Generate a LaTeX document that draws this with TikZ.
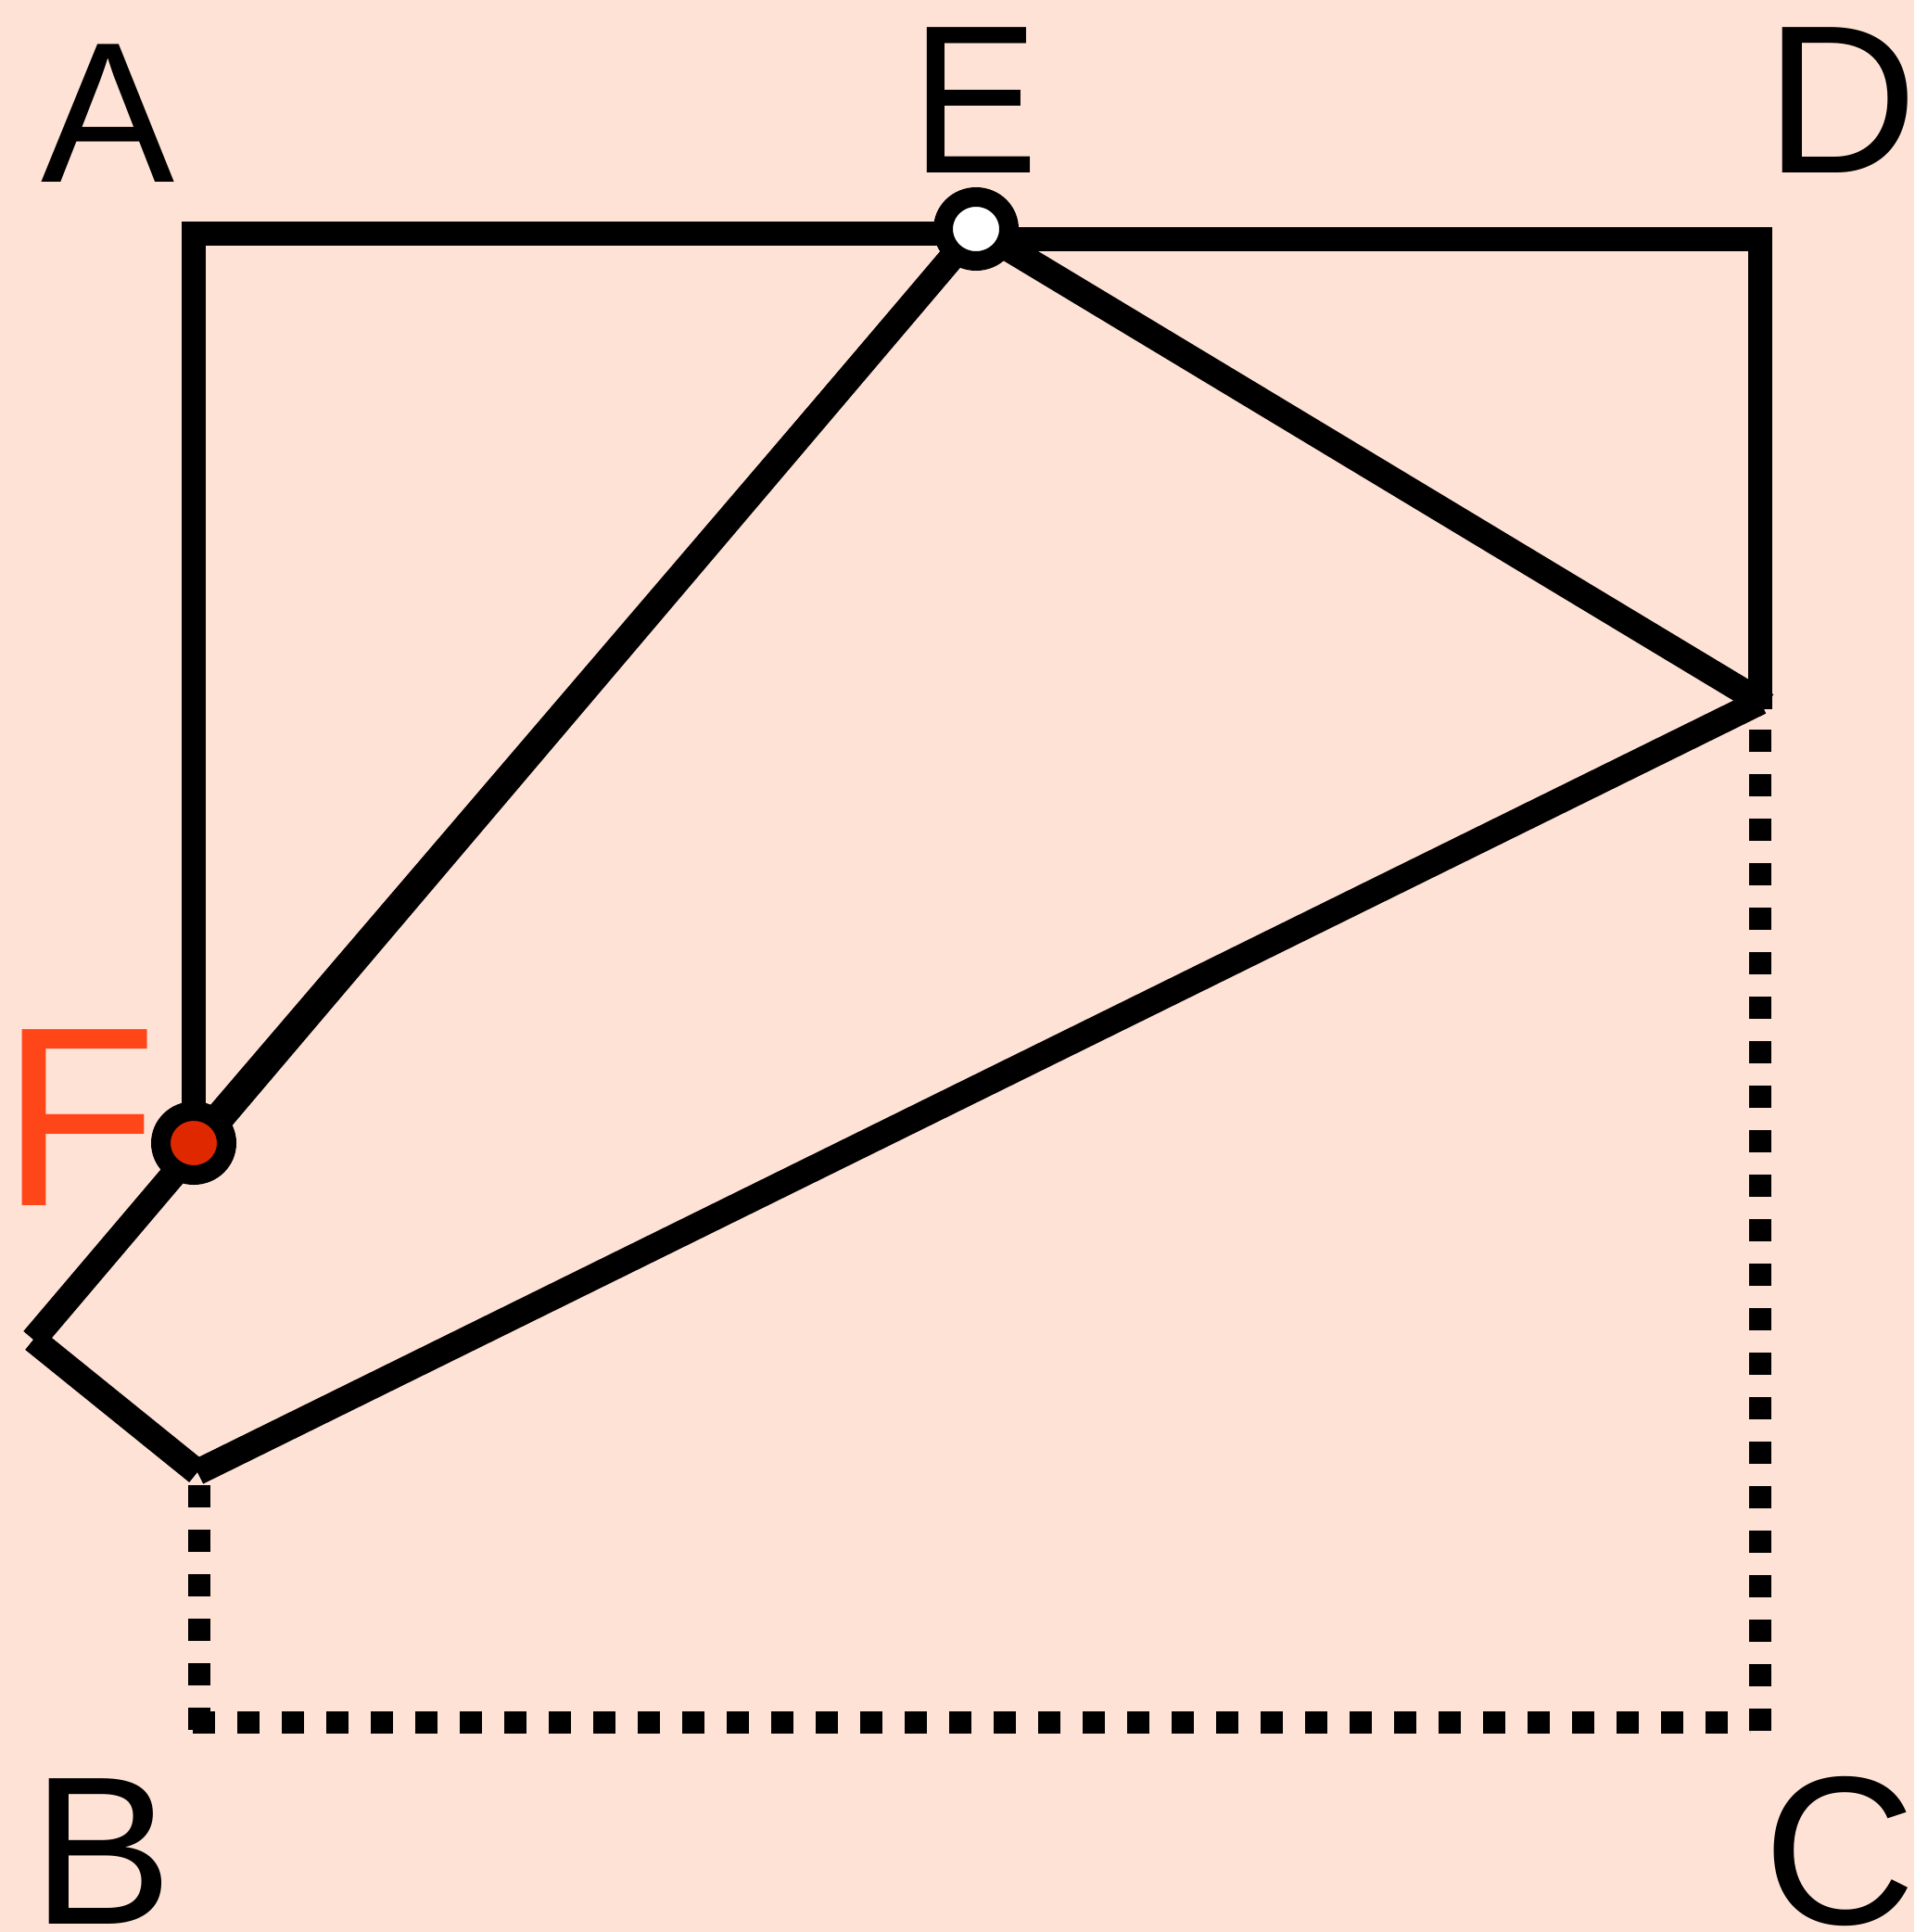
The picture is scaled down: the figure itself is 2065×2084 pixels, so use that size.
\documentclass[tikz,border=0pt]{standalone}
\usepackage{fontspec}
\setmainfont{Liberation Sans}
\usetikzlibrary{shapes.geometric}
\definecolor{paper}{RGB}{254,226,214}
\definecolor{pinred}{RGB}{224,40,0}
\definecolor{labelred}{RGB}{255,70,25}
\tikzset{
  edge/.style={line width=26pt, line join=miter},
  slant/.style={line width=28pt},
  dots/.style={line width=24pt, dash pattern=on 24pt off 24pt},
  pin/.style={ellipse, draw, line width=21pt, minimum width=71pt, minimum height=69pt, inner sep=0pt},
  lbl/.style={inner sep=0pt, font=\fontsize{228}{228}\selectfont}
}

\begin{document}
\begin{tikzpicture}[x=1pt,y=-1pt]
    \fill[paper] (0,0) rectangle (2065,2084);
    \useasboundingbox (0,0) rectangle (2065,2084);
    % points of the sheet
    \coordinate (A) at (209,252);
    \coordinate (E) at (1053,247);
    \coordinate (Dt) at (1899,258);
    \coordinate (Dv) at (1899,765);
    \coordinate (D) at (1899,757);
    \coordinate (Dx) at (1906,761);
    \coordinate (F) at (209,1233);
    \coordinate (App) at (36,1445);
    \coordinate (Bp) at (213,1588);
    % old position of the lower part
    \coordinate (Bs) at (215,1602);
    \coordinate (Be) at (215,1870);
    \coordinate (Bl) at (208,1858);
    \coordinate (Cr) at (1888,1858);
    \coordinate (Cs) at (1899,787);
    \coordinate (Ce) at (1899,1870);
    \draw[dots] (Bs) -- (Be);
    \draw[dots] (Bl) -- (Cr);
    \draw[dots] (Cs) -- (Ce);
    % folded sheet
    \draw[edge] (E |- A) -- (A) -- (F);
    \draw[edge] (E |- Dt) -- (Dt) -- (Dv);
    \draw[slant] (E) -- (Dx);
    \draw[slant] (D) -- (Bp);
    \draw[slant] (E) -- (App);
    \draw[slant] (App) -- (Bp);
    \draw[edge] (E) -- (F);
    \node[pin, fill=white] (pinE) at (E) {};
    \node[pin, fill=pinred] (pinF) at (F) {};
    % labels
    \node[lbl, font=\fontsize{216}{216}\selectfont] (lA) at (117,122) {A};
    \node[lbl] (lE) at (1052,108) {\scalebox{0.9}[1]{E}};
    \node[lbl] (lD) at (1987,108) {D};
    \node[lbl, text=labelred, font=\fontsize{276}{276}\selectfont] (lF) at (86,1206) {F};
    \node[lbl] (lB) at (111,1997) {B};
    \node[lbl] (lC) at (1985,1997) {C};
\end{tikzpicture}
\end{document}
